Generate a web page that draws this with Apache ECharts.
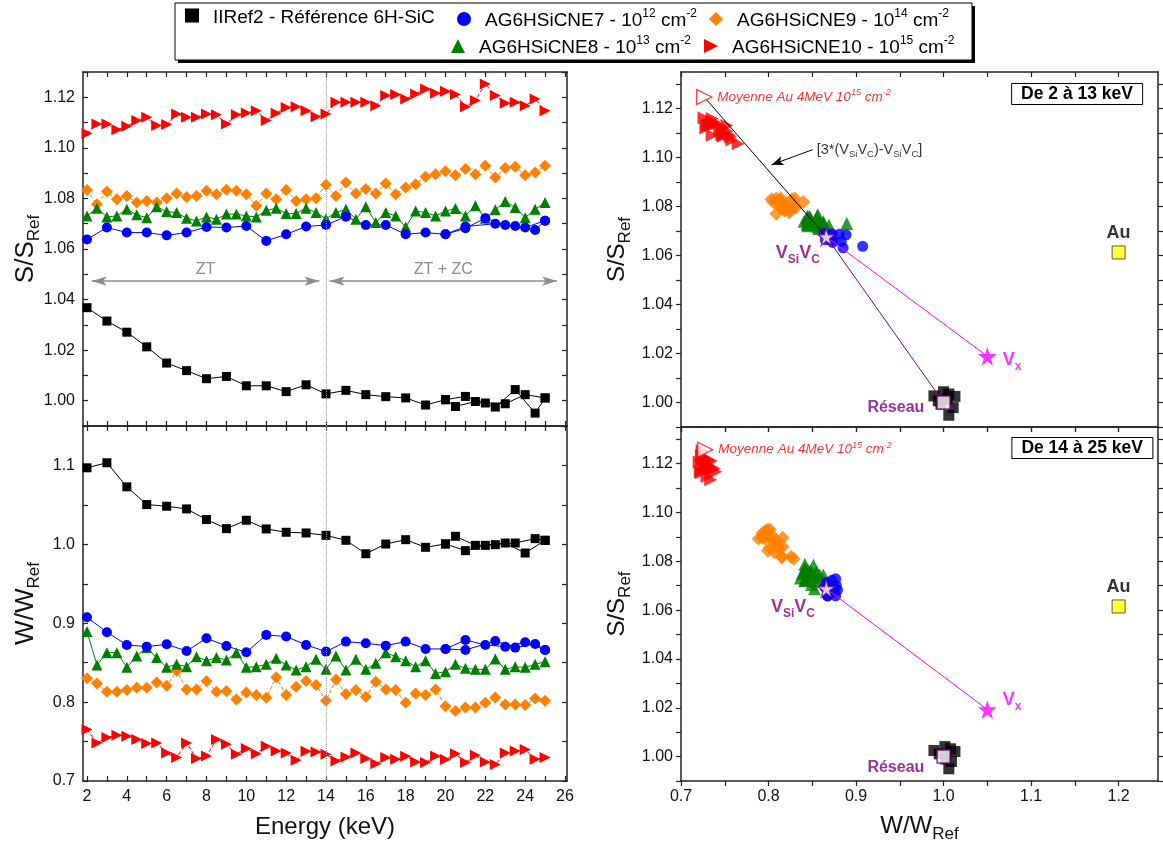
<!DOCTYPE html>
<html><head><meta charset="utf-8">
<script src="https://cdn.jsdelivr.net/npm/echarts@6/dist/echarts.min.js"></script>
<style>html,body{margin:0;padding:0;background:#fff}#c{width:1163px;height:841px}</style>
</head><body><div id="c"></div>
<script>
const FONT = '"Liberation Sans", Arial, sans-serif';

// ---------- names ----------
const N_REF = 'IIRef2 - Référence 6H-SiC';
const N_NE7 = 'AG6HSiCNE7 - 10^12 cm^-2';
const N_NE9 = 'AG6HSiCNE9 - 10^14 cm^-2';
const N_NE8 = 'AG6HSiCNE8 - 10^13 cm^-2';
const N_NE10 = 'AG6HSiCNE10 - 10^15 cm^-2';

// ---------- energies (keV) ----------
const energyHalf = [2,2.5,3,3.5,4,4.5,5,5.5,6,6.5,7,7.5,8,8.5,9,9.5,10,10.5,11,11.5,12,12.5,13,13.5,14,14.5,15,15.5,16,16.5,17,17.5,18,18.5,19,19.5,20,20.5,21,21.5,22,22.5,23,23.5,24,24.5,25];
const energyInt = [2,3,4,5,6,7,8,9,10,11,12,13,14,15,16,17,18,19,20,21,22,23,24,25];
const blackAltE = [20,20.5,21.5,22.5,23.5,24.5,25];
const blueAltE = [20,21,22.5,23.5,24.5,25];

// ---------- IIRef2 (black) ----------
const blackS = [1.0368,1.0315,1.0271,1.0213,1.0149,1.0119,1.0087,1.0096,1.0059,1.0059,1.0036,1.0063,1.0027,1.0041,1.0024,1.0016,1.0011,0.9983,1.0004,1.0017,0.9991,0.9988,1.0024,1.0011];
const blackW = [1.0970,1.1034,1.0729,1.0504,1.0483,1.0449,1.0314,1.0199,1.0305,1.0195,1.0153,1.0144,1.0114,1.0051,0.9881,1.0004,1.0059,0.9962,1.0005,0.9920,0.9987,1.0017,0.9890,1.0051];
const blackAltS = [1.0004,0.9977,0.9997,0.9975,1.0044,0.9951,1.0011];
const blackAltW = [1.0005,1.0102,0.9987,0.9996,1.0017,1.0072,1.0051];

// ---------- NE7 (blue) ----------
const blueS = [1.0638,1.0685,1.0665,1.0665,1.0654,1.0665,1.0687,1.0685,1.0691,1.0632,1.0658,1.0689,1.0695,1.0728,1.0695,1.0695,1.0658,1.0665,1.0658,1.0682,1.0722,1.0695,1.0685,1.0712];
const blueW = [0.9076,0.8886,0.8725,0.8703,0.8733,0.8648,0.8809,0.8712,0.8631,0.8852,0.8831,0.8725,0.8640,0.8767,0.8746,0.8716,0.8767,0.8674,0.8674,0.8788,0.8725,0.8703,0.8758,0.8661];
const blueAltS = [1.0658,1.0689,1.0700,1.0691,1.0675,1.0712];
const blueAltW = [0.8674,0.8661,0.8775,0.8691,0.8737,0.8661];

// ---------- NE9 (orange) ----------
const orangeS = [1.0833,1.0777,1.0827,1.0797,1.0810,1.0784,1.0790,1.0784,1.0801,1.0819,1.0806,1.0810,1.0830,1.0817,1.0834,1.0830,1.0817,1.0771,1.0819,1.0797,1.0833,1.0790,1.0797,1.0801,1.0854,1.0810,1.0863,1.0819,1.0837,1.0819,1.0859,1.0817,1.0843,1.0856,1.0886,1.0896,1.0907,1.0892,1.0916,1.0896,1.0929,1.0883,1.0920,1.0925,1.0892,1.0903,1.0929];
const orangeW = [0.8301,0.8237,0.8131,0.8131,0.8153,0.8182,0.8182,0.8250,0.8208,0.8398,0.8161,0.8161,0.8267,0.8131,0.8140,0.8034,0.8123,0.8089,0.8055,0.8314,0.8089,0.8195,0.8267,0.8216,0.8017,0.8288,0.8102,0.8153,0.8068,0.8258,0.8161,0.8153,0.7992,0.8110,0.8089,0.8161,0.7949,0.7886,0.7932,0.7932,0.7992,0.8059,0.7970,0.7970,0.7962,0.8047,0.8017];

// ---------- NE8 (green) ----------
const greenS = [1.0731,1.0761,1.0727,1.0731,1.0757,1.0735,1.0724,1.0767,1.0748,1.0744,1.0722,1.0711,1.0727,1.0718,1.0738,1.0738,1.0731,1.0727,1.0753,1.0761,1.0740,1.0740,1.0761,1.0744,1.0720,1.0744,1.0757,1.0718,1.0767,1.0705,1.0744,1.0731,1.0687,1.0750,1.0744,1.0731,1.0750,1.0760,1.0731,1.0771,1.0722,1.0755,1.0788,1.0764,1.0724,1.0757,1.0784];
const greenW = [0.8894,0.8470,0.8627,0.8627,0.8441,0.8585,0.8691,0.8564,0.8441,0.8479,0.8449,0.8576,0.8525,0.8564,0.8534,0.8627,0.8441,0.8449,0.8479,0.8555,0.8470,0.8407,0.8449,0.8542,0.8415,0.8585,0.8407,0.8542,0.8415,0.8492,0.8627,0.8576,0.8525,0.8449,0.8525,0.8364,0.8386,0.8479,0.8428,0.8415,0.8415,0.8547,0.8415,0.8449,0.8441,0.8479,0.8513];

// ---------- NE10 (red) ----------
const redS = [1.1057,1.1094,1.1094,1.1072,1.1085,1.1108,1.1121,1.1088,1.1092,1.1134,1.1121,1.1121,1.1134,1.1131,1.1094,1.1131,1.1138,1.1147,1.1108,1.1137,1.1160,1.1163,1.1147,1.1123,1.1134,1.1180,1.1180,1.1180,1.1180,1.1167,1.1207,1.1211,1.1193,1.1213,1.1233,1.1216,1.1224,1.1211,1.1163,1.1187,1.1253,1.1207,1.1176,1.1180,1.1167,1.1193,1.1147];
const redW = [0.7653,0.7483,0.7551,0.7581,0.7568,0.7525,0.7475,0.7483,0.7356,0.7297,0.7483,0.7284,0.7318,0.7525,0.7466,0.7339,0.7411,0.7347,0.7441,0.7381,0.7356,0.7263,0.7377,0.7369,0.7339,0.7254,0.7305,0.7356,0.7284,0.7220,0.7297,0.7275,0.7314,0.7242,0.7233,0.7318,0.7271,0.7347,0.7233,0.7326,0.7242,0.7208,0.7356,0.7381,0.7398,0.7275,0.7297];

// ---------- reference cluster on the S-W maps ----------
const refTopW = [0.989,1.000,1.006,1.013,1.011,1.006,0.994,1.004,0.997];
const refTopS = [1.0027,1.0044,1.0035,1.0025,0.9979,0.9948,1.0007,1.0014,0.9993];
const refBotW = [0.989,1.0015,1.008,1.013,1.009,1.006,0.995,1.0025];
const refBotS = [1.0025,1.0041,1.0032,1.0021,0.998,0.995,1.0011,0.999];

// ---------- special points (W, S) ----------
const moyenneTop = [0.7265, 1.1248];
const moyenneBot = [0.7277, 1.1257];
const vsivcTop = [0.866, 1.0677];
const vsivcBot = [0.866, 1.0688];
const reseauPt = [1.0, 1.0];
const vxTop = [1.05, 1.0189];
const vxBot = [1.05, 1.0193];
const auTop = [1.2, 1.0613];
const auBot = [1.2, 1.0615];

// ---------- ticks ----------
const xTicksE = [2,3,4,5,6,7,8,9,10,11,12,13,14,15,16,17,18,19,20,21,22,23,24,25,26];
const xLabelsE = [2,4,6,8,10,12,14,16,18,20,22,24,26];
const yTicksS = [0.99,1.00,1.01,1.02,1.03,1.04,1.05,1.06,1.07,1.08,1.09,1.10,1.11,1.12,1.13];
const yLabelsS = [1.00,1.02,1.04,1.06,1.08,1.10,1.12];
const yTicksW = [0.70,0.75,0.80,0.85,0.90,0.95,1.00,1.05,1.10,1.15];
const yLabelsW = [0.7,0.8,0.9,1.0,1.1];
const xTicksW = [0.70,0.75,0.80,0.85,0.90,0.95,1.00,1.05,1.10,1.15,1.20];
const xLabelsW = [0.7,0.8,0.9,1.0,1.1,1.2];

// ---------- helpers ----------
const zip = (a, b) => a.map((v, i) => [v, b[i]]);
const pick = (E, W, S, lo, hi) => { const o = []; E.forEach((e, i) => { if (e >= lo && e <= hi) o.push([W[i], S[i]]); }); return o; };

const AX = '#222';
function axis(grid, pos, min, max, ticks, labels, showLabels, digits, inside, extra) {
  return Object.assign({
    type: 'value', gridIndex: grid, position: pos, min: min, max: max,
    splitLine: { show: false },
    axisLine: { show: true, onZero: false, lineStyle: { color: AX, width: 1.5 } },
    axisTick: { show: true, inside: inside, length: 5, customValues: ticks, lineStyle: { color: AX, width: 1.2 } },
    axisLabel: { show: showLabels, customValues: labels, fontSize: 16, color: '#111', margin: 8, fontFamily: FONT,
      formatter: v => digits === 0 ? String(Math.round(v)) : Number(v).toFixed(digits) }
  }, extra || {});
}
const nameRich = { sub: { fontSize: 17, lineHeight: 17, verticalAlign: 'bottom', fontFamily: FONT, color: '#111' } };
const yName = (txt, gap, fs) => ({ name: txt, nameLocation: 'middle', nameGap: gap, nameRotate: 90, nameMoveOverlap: false,
  nameTextStyle: { fontSize: fs, lineHeight: 34, color: '#111', fontFamily: FONT, rich: nameRich } });

const RTRI = 'path://M0,0L10,5L0,10Z';
const STAR = 'path://M50,0L61,35L98,35L68,57L79,91L50,70L21,91L32,57L2,35L39,35Z';

const C = { black: '#000000', blue: '#0000ff', orange: '#ff8000', green: '#008000', red: '#ff0000', purple: '#800080', magenta: '#ff00ff' };

function leftSeries(g, key) {
  const ix = { xAxisIndex: g, yAxisIndex: g };
  const S = key === 'S';
  const mk = {
    silent: true, animation: false, symbol: ['none', 'none'],
    data: [{ xAxis: 14, lineStyle: { type: 'dotted', color: '#999', width: 1 }, label: { show: false } }]
  };
  if (S) {
    const arrowLbl = t => ({ show: true, position: 'insideMiddleTop', distance: 4, formatter: t, color: '#8c8c8c', fontSize: 16, fontFamily: FONT });
    mk.data.push([{ coord: [2.24, 1.0473], symbol: 'arrow', symbolSize: [7, 15], lineStyle: { color: '#8c8c8c', width: 1.5, type: 'solid' }, label: arrowLbl('ZT') }, { coord: [13.67, 1.0473], symbol: 'arrow', symbolSize: [7, 15] }]);
    mk.data.push([{ coord: [14.18, 1.0473], symbol: 'arrow', symbolSize: [7, 15], lineStyle: { color: '#8c8c8c', width: 1.5, type: 'solid' }, label: arrowLbl('ZT + ZC') }, { coord: [25.6, 1.0473], symbol: 'arrow', symbolSize: [7, 15] }]);
  }
  const base = (name, data, sym, size, color, dash, extra) => Object.assign({
    name, type: 'line', ...ix, data, symbol: sym, symbolSize: size, animation: false,
    itemStyle: { color }, lineStyle: { color, width: 1, type: dash ? [4, 2] : 'solid' }, emphasis: { disabled: true }
  }, extra || {});
  return [
    base(N_REF, zip(energyInt, S ? blackS : blackW), 'rect', 9, C.black, false, { markLine: mk }),
    base(N_REF, zip(blackAltE, S ? blackAltS : blackAltW), 'rect', 9, C.black, false),
    base(N_NE9, zip(energyHalf, S ? orangeS : orangeW), 'diamond', 12, C.orange, true),
    base(N_NE8, zip(energyHalf, S ? greenS : greenW), 'triangle', 11, C.green, false),
    base(N_NE7, zip(energyInt, S ? blueS : blueW), 'circle', 10, C.blue, false),
    base(N_NE7, zip(blueAltE, S ? blueAltS : blueAltW), 'circle', 10, C.blue, false),
    base(N_NE10, zip(energyHalf, S ? redS : redW), RTRI, 11, C.red, true)
  ];
}

function rightSeries(g, lo, hi, top) {
  const ix = { xAxisIndex: g, yAxisIndex: g };
  const sc = (name, data, sym, size, color, extra) => Object.assign({
    name, type: 'scatter', ...ix, data, symbol: sym, symbolSize: size, animation: false,
    itemStyle: { color }, emphasis: { disabled: true }
  }, extra || {});
  const moy = top ? moyenneTop : moyenneBot;
  const vs = top ? vsivcTop : vsivcBot;
  const vx = top ? vxTop : vxBot;
  const au = top ? auTop : auBot;
  const out = [
    sc(N_REF, top ? zip(refTopW, refTopS) : zip(refBotW, refBotS), 'rect', 11, C.black),
    sc(N_NE9, pick(energyHalf, orangeW, orangeS, lo, hi), 'diamond', 14, C.orange),
    sc(N_NE8, pick(energyHalf, greenW, greenS, lo, hi), 'triangle', 13, C.green),
    sc(N_NE7, pick(energyInt, blueW, blueS, lo, hi).concat(pick(blueAltE, blueAltW, blueAltS, lo, hi)), 'circle', 11, C.blue),
    sc(N_NE10, pick(energyHalf, redW, redS, lo, hi), RTRI, 13, C.red)
  ];
  const ln = (data, color, extra) => Object.assign({ type: 'line', ...ix, data, symbol: 'none', silent: true, animation: false,
    lineStyle: { color, width: 1 }, z: 3 }, extra || {});
  if (top) {
    out.push(ln([moy, vs], C.black, {
      markLine: { silent: true, animation: false, symbol: ['none', 'arrow'], symbolSize: [7, 12],
        lineStyle: { color: '#000', width: 1, type: 'solid' }, label: { show: false },
        data: [[{ coord: [0.8505, 1.1033] }, { coord: [0.8035, 1.0971] }]] }
    }));
    out.push(ln([vs, reseauPt], C.purple));
  }
  out.push(ln([vs, vx], C.magenta));
  const lab = (data, label) => ({ type: 'scatter', ...ix, data: [data], symbolSize: 1, itemStyle: { color: 'rgba(0,0,0,0)' }, silent: true, animation: false, z: 6, label: Object.assign({ show: true, fontFamily: FONT }, label) });
  out.push(sc('moy', [moy], RTRI, 15, '#fff', { z: 5, itemStyle: { color: '#fff', borderColor: C.red, borderWidth: 1.2 },
    label: { show: true, position: 'right', distance: 5, formatter: '{i|Moyenne Au 4MeV 10}{sup|15}{i| cm}{sup|-2}',
      rich: { i: { fontSize: 13.5, fontStyle: 'italic', color: C.red, lineHeight: 18, fontFamily: FONT }, sup: { fontSize: 9, fontStyle: 'italic', color: C.red, lineHeight: 9, verticalAlign: 'top', fontFamily: FONT } } } }));
  out.push(sc('vsivc', [vs], STAR, 17, '#fff', { z: 5, itemStyle: { color: '#fff', borderColor: C.purple, borderWidth: 1.2 } }));
  out.push(sc('vx', [vx], STAR, 19, C.magenta, { z: 5,
    label: { show: true, position: 'right', distance: 6, offset: top ? [0, 4] : [0, -9], formatter: '{v|V}{s|x}',
      rich: { v: { fontSize: 18, fontWeight: 'bold', color: C.magenta, lineHeight: 24, fontFamily: FONT }, s: { fontSize: 12, fontWeight: 'bold', color: C.magenta, lineHeight: 12, verticalAlign: 'bottom', fontFamily: FONT } } } }));
  out.push(sc('au', [au], 'rect', 13, '#ffff00', { z: 5, itemStyle: { color: '#ffff00', borderColor: '#333', borderWidth: 1 },
    label: { show: true, position: 'top', distance: 3, formatter: 'Au', fontSize: 18, fontWeight: 'bold', color: '#000', fontFamily: FONT } }));
  out.push(sc('reseau', [reseauPt], 'rect', 13, '#fff', { z: 5, itemStyle: { color: '#fff', borderColor: C.purple, borderWidth: 1.5 },
    label: { show: true, position: 'left', distance: 12, offset: top ? [0, 5] : [0, 11], formatter: 'Réseau', fontSize: 16, fontWeight: 'bold', color: C.purple, fontFamily: FONT } }));
  out.push(lab(top ? [0.8335, 1.061] : [0.828, 1.0612], { position: 'inside', formatter: '{v|V}{s|Si}{v|V}{s|C}',
    rich: { v: { fontSize: 18, fontWeight: 'bold', color: C.purple, lineHeight: 26, fontFamily: FONT }, s: { fontSize: 12, fontWeight: 'bold', color: C.purple, lineHeight: 12, verticalAlign: 'bottom', fontFamily: FONT } } }));
  if (top) {
    out.push(lab([0.8545, 1.1033], { position: 'right', distance: 0, formatter: '{t|[3*(V}{s|Si}{t|V}{s|C}{t|)-V}{s|Si}{t|V}{s|C}{t|]}',
      rich: { t: { fontSize: 14.5, color: '#000', lineHeight: 20, fontFamily: FONT }, s: { fontSize: 9.5, color: '#000', lineHeight: 9, verticalAlign: 'bottom', fontFamily: FONT } } }));
  }
  return out;
}

const legendRich = {
  n: { fontSize: 19, lineHeight: 26, color: '#000', fontFamily: FONT },
  sup: { fontSize: 12, lineHeight: 12, verticalAlign: 'top', color: '#000', fontFamily: FONT }
};
const legendText = {};
legendText[N_REF] = '{n|IIRef2 - Référence 6H-SiC}';
legendText[N_NE7] = '{n|AG6HSiCNE7 - 10}{sup|12}{n| cm}{sup|-2}';
legendText[N_NE9] = '{n|AG6HSiCNE9 - 10}{sup|14}{n| cm}{sup|-2}';
legendText[N_NE8] = '{n|AG6HSiCNE8 - 10}{sup|13}{n| cm}{sup|-2}';
legendText[N_NE10] = '{n|AG6HSiCNE10 - 10}{sup|15}{n| cm}{sup|-2}';
const lg = (name, icon, left, top) => ({
  data: [{ name, icon }], left, top, padding: 0, itemGap: 0, itemWidth: 14, itemHeight: 14, selectedMode: false,
  formatter: n => legendText[n], textStyle: { fontSize: 19, color: '#000', fontFamily: FONT, padding: [4, 0, 0, 9], rich: legendRich }
});

const option = {
  animation: false,
  textStyle: { fontFamily: FONT },
  grid: [
    { left: 83, top: 72, width: 484, height: 354, containLabel: false, outerBoundsMode: 'none' },
    { left: 83, top: 426, width: 484, height: 355, containLabel: false, outerBoundsMode: 'none' },
    { left: 681, top: 72, width: 477, height: 355, containLabel: false, outerBoundsMode: 'none' },
    { left: 681, top: 427, width: 477, height: 354, containLabel: false, outerBoundsMode: 'none' }
  ],
  xAxis: [
    axis(0, 'bottom', 1.8, 26.1, xTicksE, xLabelsE, false, 0, true),
    axis(1, 'bottom', 1.8, 26.1, xTicksE, xLabelsE, true, 0, true, { name: 'Energy (keV)', nameLocation: 'middle', nameGap: 34, nameTextStyle: { fontSize: 24, color: '#111', fontFamily: FONT } }),
    axis(2, 'bottom', 0.7, 1.245, xTicksW, xLabelsW, false, 1, false),
    axis(3, 'bottom', 0.7, 1.245, xTicksW, xLabelsW, true, 1, false, { name: 'W/W{sub|Ref}', nameLocation: 'middle', nameGap: 28, nameTextStyle: { fontSize: 24, lineHeight: 34, color: '#111', fontFamily: FONT, rich: nameRich } }),
    axis(0, 'top', 1.8, 26.1, xTicksE, xLabelsE, false, 0, true),
    axis(1, 'top', 1.8, 26.1, xTicksE, xLabelsE, false, 0, true),
    axis(2, 'top', 0.7, 1.245, xTicksW, xLabelsW, false, 1, true),
    axis(3, 'top', 0.7, 1.245, xTicksW, xLabelsW, false, 1, true)
  ],
  yAxis: [
    axis(0, 'left', 0.99, 1.13, yTicksS, yLabelsS, true, 2, true, yName('S/S{sub|Ref}', 40, 26)),
    axis(1, 'left', 0.7, 1.15, yTicksW, yLabelsW, true, 1, true, yName('W/W{sub|Ref}', 40, 26)),
    axis(2, 'left', 0.99, 1.135, yTicksS, yLabelsS, true, 2, false, yName('S/S{sub|Ref}', 47, 24)),
    axis(3, 'left', 0.99, 1.135, yTicksS, yLabelsS, true, 2, false, yName('S/S{sub|Ref}', 47, 24)),
    axis(0, 'right', 0.99, 1.13, yTicksS, yLabelsS, false, 2, true),
    axis(1, 'right', 0.7, 1.15, yTicksW, yLabelsW, false, 1, true),
    axis(2, 'right', 0.99, 1.135, yTicksS, yLabelsS, false, 2, false),
    axis(3, 'right', 0.99, 1.135, yTicksS, yLabelsS, false, 2, false)
  ],
  legend: [
    lg(N_REF, 'rect', 185, 8),
    lg(N_NE7, 'circle', 457, 8),
    lg(N_NE9, 'diamond', 709, 8),
    lg(N_NE8, 'triangle', 451, 35),
    lg(N_NE10, RTRI, 704, 35)
  ],
  title: [
    { text: 'De 2 à 13 keV', right: 20, top: 83, padding: [2, 10], borderWidth: 1, borderColor: '#000', backgroundColor: '#fff',
      textStyle: { fontSize: 17.5, fontWeight: 'bold', color: '#000', fontFamily: FONT } },
    { text: 'De 14 à 25 keV', right: 10, top: 437, padding: [2, 10], borderWidth: 1, borderColor: '#000', backgroundColor: '#fff',
      textStyle: { fontSize: 17.5, fontWeight: 'bold', color: '#000', fontFamily: FONT } }
  ],
  graphic: [
    { type: 'rect', z: 0, shape: { x: 178, y: 6, width: 797, height: 57 }, style: { fill: '#000' } },
    { type: 'rect', z: 1, shape: { x: 175, y: 3, width: 797, height: 57 }, style: { fill: '#fff', stroke: '#000', lineWidth: 1 } }
  ],
  series: [].concat(
    leftSeries(0, 'S'),
    leftSeries(1, 'W'),
    rightSeries(2, 2, 13, true),
    rightSeries(3, 14, 25, false)
  )
};

const chart = echarts.init(document.getElementById('c'), null, { renderer: 'canvas' });
chart.setOption(option);
</script>
</body></html>
